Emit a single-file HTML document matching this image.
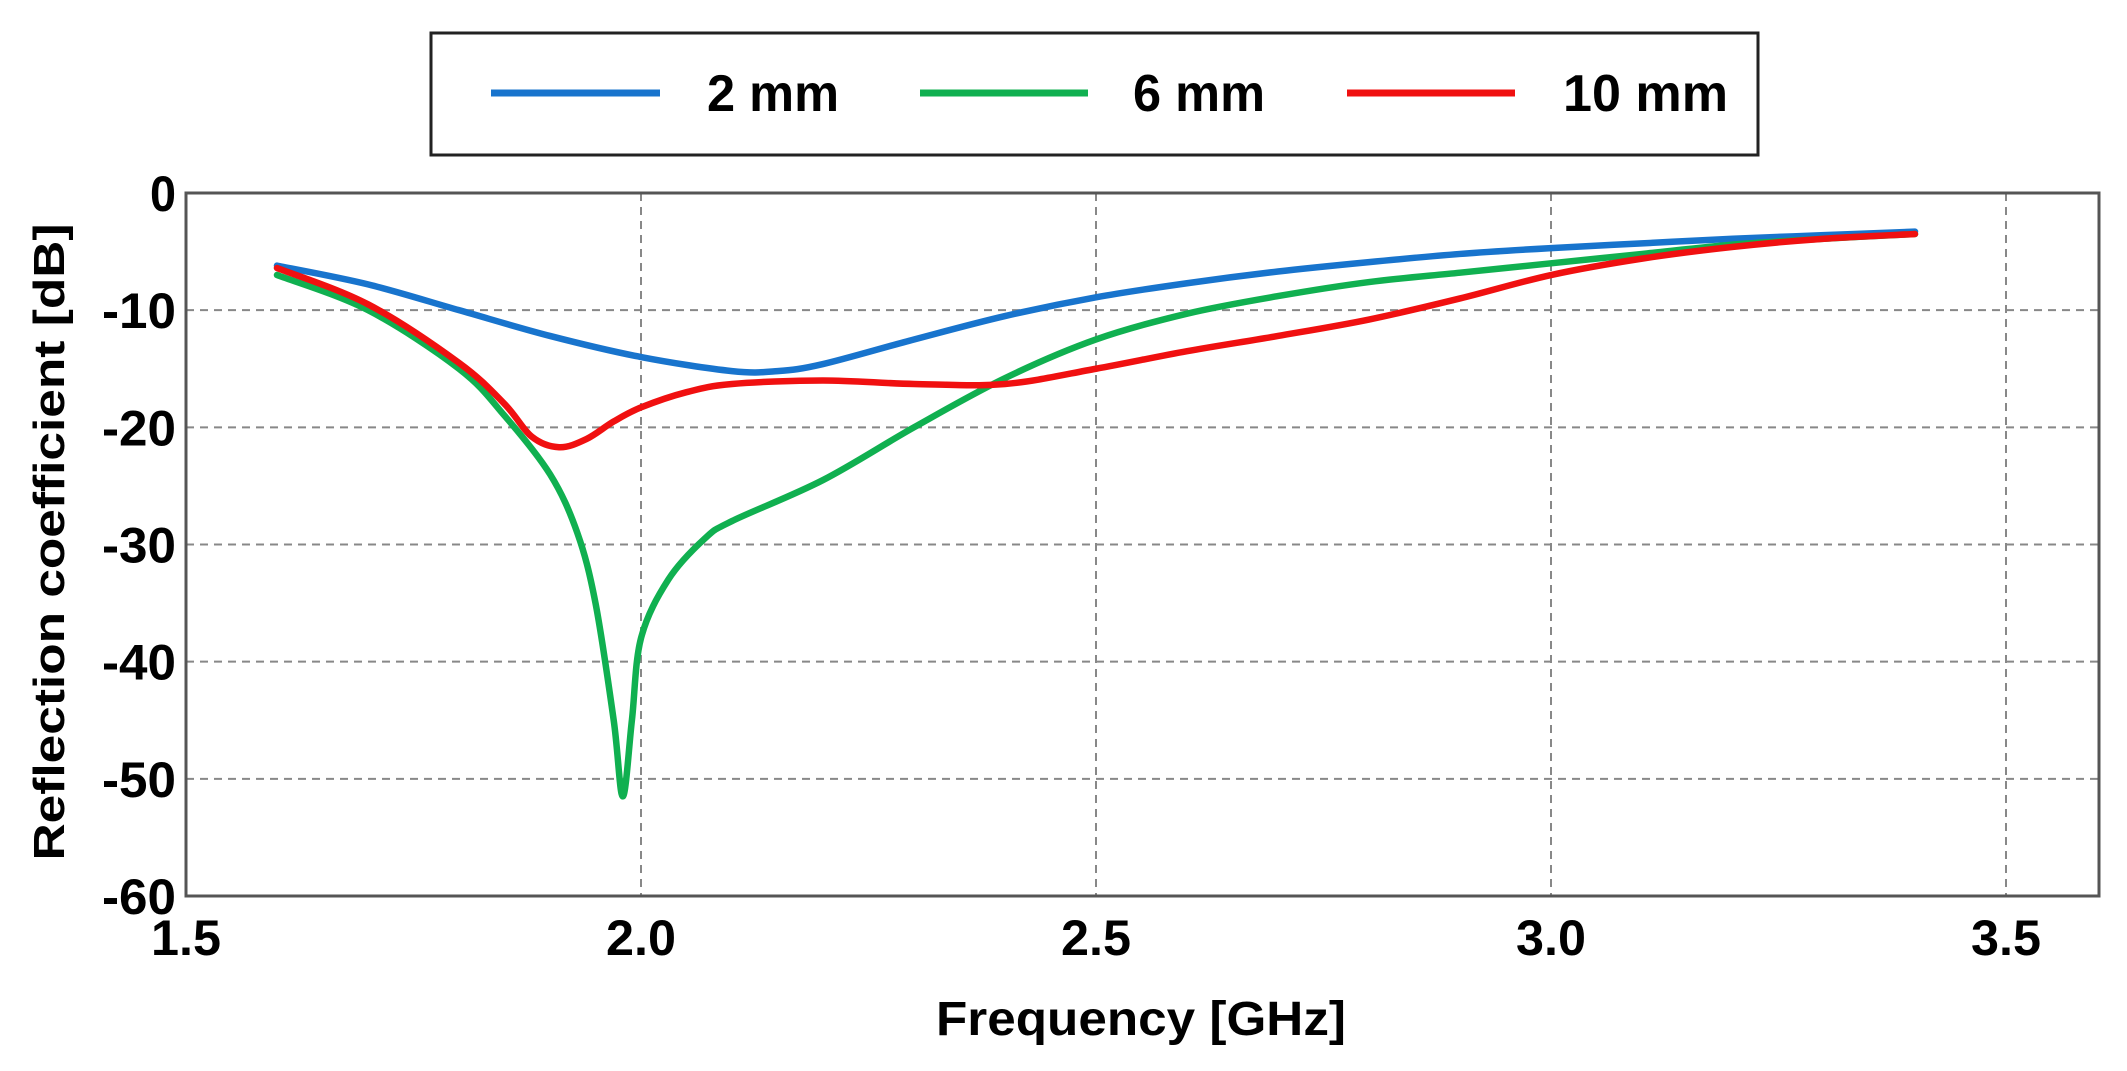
<!DOCTYPE html>
<html><head><meta charset="utf-8"><style>html,body{margin:0;padding:0;background:#fff;}svg{display:block}</style></head>
<body>
<svg id="s" width="2127" height="1071" viewBox="0 0 2127 1071" xmlns="http://www.w3.org/2000/svg" font-family="Liberation Sans, Arial, sans-serif" font-weight="bold">
<rect width="2127" height="1071" fill="#fff"/>
<rect x="431" y="33" width="1327" height="122" fill="#fff" stroke="#222" stroke-width="3"/>
<line x1="491" y1="93" x2="660" y2="93" stroke="#1874cd" stroke-width="7"/>
<text x="707" y="111" font-size="52" textLength="132" lengthAdjust="spacingAndGlyphs">2 mm</text>
<line x1="920" y1="93" x2="1088" y2="93" stroke="#10b050" stroke-width="7"/>
<text x="1133" y="111" font-size="52" textLength="132" lengthAdjust="spacingAndGlyphs">6 mm</text>
<line x1="1347" y1="93" x2="1515" y2="93" stroke="#f01010" stroke-width="7"/>
<text x="1563" y="111" font-size="52" textLength="165" lengthAdjust="spacingAndGlyphs">10 mm</text>
<g id="grid" stroke="#888" stroke-width="2" stroke-dasharray="8,6"></g>
<rect x="186" y="193" width="1913" height="703" fill="none" stroke="#555" stroke-width="3"/>
<g id="ticks" font-size="50"></g>
<g id="curves" fill="none" stroke-width="6.5" stroke-linejoin="round" stroke-linecap="round"></g>
<text x="1141" y="1035" font-size="48" text-anchor="middle" textLength="410" lengthAdjust="spacingAndGlyphs">Frequency [GHz]</text>
<text transform="translate(64,542) rotate(-90)" font-size="44" text-anchor="middle" textLength="637" lengthAdjust="spacingAndGlyphs">Reflection coefficient [dB]</text>
</svg>
<script>
var NS="http://www.w3.org/2000/svg";
function X(f){return 186+(f-1.5)*910;}
function Y(d){return 193-d*11.717;}
function el(t,a,p,txt){var e=document.createElementNS(NS,t);for(var k in a)e.setAttribute(k,a[k]);if(txt!=null)e.textContent=txt;p.appendChild(e);return e;}
var g=document.getElementById("grid"),tk=document.getElementById("ticks"),cv=document.getElementById("curves");
[2.0,2.5,3.0,3.5].forEach(function(f){el("line",{x1:X(f),y1:193,x2:X(f),y2:896},g);});
[-10,-20,-30,-40,-50].forEach(function(d){el("line",{x1:186,y1:Y(d),x2:2099,y2:Y(d)},g);});
[0,-10,-20,-30,-40,-50,-60].forEach(function(d){var s=String(d);el("text",{x:176,y:Y(d)+18,"text-anchor":"end",textLength:(s.length==1?26:(s.length==2?56:74)),lengthAdjust:"spacingAndGlyphs"},tk,s);});
["1.5","2.0","2.5","3.0","3.5"].forEach(function(s){el("text",{x:X(+s),y:955,"text-anchor":"middle",textLength:70,lengthAdjust:"spacingAndGlyphs"},tk,s);});
var data={
"#1874cd":[[1.6,-6.2],[1.7,-7.8],[1.8,-10],[1.9,-12.2],[2.0,-14],[2.1,-15.2],[2.15,-15.2],[2.2,-14.6],[2.3,-12.5],[2.4,-10.5],[2.5,-8.9],[2.6,-7.7],[2.7,-6.7],[2.8,-5.9],[2.9,-5.2],[3.0,-4.7],[3.1,-4.3],[3.2,-3.9],[3.3,-3.6],[3.4,-3.3]],
"#10b050":[[1.6,-7],[1.7,-10],[1.8,-15],[1.85,-19],[1.9,-24],[1.93,-29],[1.95,-35],[1.97,-45],[1.98,-51.5],[1.99,-45],[2.0,-38],[2.03,-33],[2.07,-29.5],[2.1,-28],[2.2,-24.5],[2.3,-20],[2.4,-15.8],[2.5,-12.5],[2.6,-10.3],[2.7,-8.8],[2.8,-7.6],[2.9,-6.8],[3.0,-6.0],[3.1,-5.2],[3.2,-4.4],[3.3,-3.9],[3.4,-3.5]],
"#f01010":[[1.6,-6.4],[1.7,-9.5],[1.8,-14.5],[1.85,-18],[1.88,-20.8],[1.91,-21.7],[1.94,-21],[1.97,-19.5],[2.0,-18.3],[2.05,-17],[2.1,-16.3],[2.2,-16],[2.3,-16.3],[2.4,-16.3],[2.5,-15.0],[2.6,-13.5],[2.7,-12.2],[2.8,-10.8],[2.9,-9.0],[3.0,-7.0],[3.1,-5.6],[3.2,-4.6],[3.3,-3.9],[3.4,-3.5]]};
["#1874cd","#10b050","#f01010"].forEach(function(c){
 var p=data[c].map(function(q){return [X(q[0]),Y(q[1])];});
 var d="M"+p[0][0]+","+p[0][1];
 for(var i=0;i<p.length-1;i++){
  var p0=p[Math.max(0,i-1)],p1=p[i],p2=p[i+1],p3=p[Math.min(p.length-1,i+2)];
  var c1=[p1[0]+(p2[0]-p0[0])/6,p1[1]+(p2[1]-p0[1])/6],c2=[p2[0]-(p3[0]-p1[0])/6,p2[1]-(p3[1]-p1[1])/6];
  d+=" C"+c1+" "+c2+" "+p2;
 }
 el("path",{d:d,stroke:c},cv);
});
</script>
</body></html>
